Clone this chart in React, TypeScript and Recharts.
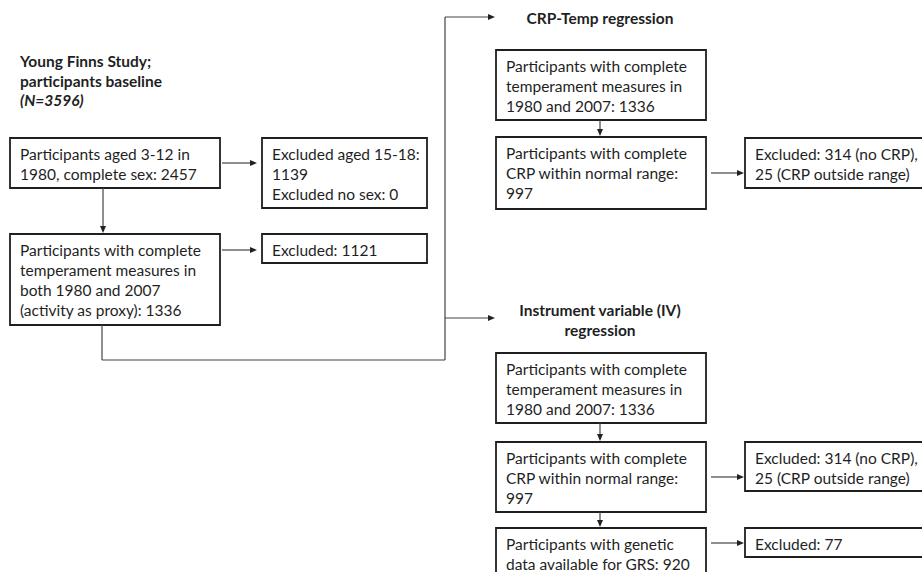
import React from 'react';
import { ComposedChart, XAxis, YAxis, ReferenceArea, ReferenceLine, Scatter } from 'recharts';

const FONT = 'Lato, "Open Sans", sans-serif';
const INK = '#1f1f1f';

interface Box { x1: number; x2: number; y1: number; y2: number; lines: string[] }

// cohort selection (left column)
const baselineBoxes: Box[] = [
  { x1: 10, x2: 220, y1: 138, y2: 188, lines: ['Participants aged 3-12 in', '1980, complete sex: 2457'] },
  { x1: 262, x2: 427, y1: 138, y2: 208, lines: ['Excluded aged 15-18:', '1139', 'Excluded no sex: 0'] },
  { x1: 10, x2: 220, y1: 234, y2: 325, lines: ['Participants with complete', 'temperament measures in', 'both 1980 and 2007', '(activity as proxy): 1336'] },
  { x1: 262, x2: 427, y1: 234, y2: 263, lines: ['Excluded: 1121'] },
];

// CRP-Temp regression branch
const crpBoxes: Box[] = [
  { x1: 496, x2: 706, y1: 50, y2: 120, lines: ['Participants with complete', 'temperament measures in', '1980 and 2007: 1336'] },
  { x1: 496, x2: 706, y1: 137, y2: 209, lines: ['Participants with complete', 'CRP within normal range:', '997'] },
  { x1: 745, x2: 935, y1: 138, y2: 188, lines: ['Excluded: 314 (no CRP),', '25 (CRP outside range)'] },
];

// IV regression branch
const ivBoxes: Box[] = [
  { x1: 496, x2: 706, y1: 353, y2: 423, lines: ['Participants with complete', 'temperament measures in', '1980 and 2007: 1336'] },
  { x1: 496, x2: 706, y1: 442, y2: 512, lines: ['Participants with complete', 'CRP within normal range:', '997'] },
  { x1: 496, x2: 706, y1: 528, y2: 600, lines: ['Participants with genetic', 'data available for GRS: 920'] },
  { x1: 745, x2: 935, y1: 442, y2: 491, lines: ['Excluded: 314 (no CRP),', '25 (CRP outside range)'] },
  { x1: 745, x2: 935, y1: 528, y2: 557, lines: ['Excluded: 77'] },
];

const headings = [
  { x: 20, y: 61, text: 'Young Finns Study;', anchor: 'start', italic: false },
  { x: 20, y: 81, text: 'participants baseline', anchor: 'start', italic: false },
  { x: 20, y: 100, text: '(N=3596)', anchor: 'start', italic: true },
  { x: 600, y: 18, text: 'CRP-Temp regression', anchor: 'middle', italic: false },
  { x: 600, y: 310, text: 'Instrument variable (IV)', anchor: 'middle', italic: false },
  { x: 600, y: 330, text: 'regression', anchor: 'middle', italic: false },
];

const connectors = [
  { x1: 222, y1: 163, x2: 257, y2: 163, head: true },
  { x1: 103, y1: 188, x2: 103, y2: 233, head: true },
  { x1: 222, y1: 250, x2: 257, y2: 250, head: true },
  { x1: 102, y1: 325, x2: 102, y2: 360, head: false },
  { x1: 102, y1: 360, x2: 445, y2: 360, head: false },
  { x1: 445, y1: 360, x2: 445, y2: 17, head: false },
  { x1: 445, y1: 17, x2: 495, y2: 17, head: true },
  { x1: 445, y1: 318, x2: 495, y2: 318, head: true },
  { x1: 600, y1: 120, x2: 600, y2: 136, head: true },
  { x1: 711, y1: 173, x2: 744, y2: 173, head: true },
  { x1: 600, y1: 423, x2: 600, y2: 441, head: true },
  { x1: 711, y1: 477, x2: 744, y2: 477, head: true },
  { x1: 600, y1: 512, x2: 600, y2: 527, head: true },
  { x1: 711, y1: 543, x2: 744, y2: 543, head: true },
];

const BoxText = (props: any) => {
  const { viewBox, lines } = props;
  if (!viewBox) return null;
  return (
    <g>
      {lines.map((l: string, i: number) => (
        <text key={i} x={viewBox.x + 10} y={viewBox.y + 16 + i * 20} dominantBaseline="central"
          fontFamily={FONT} fontSize={15.5} fill={INK}>{l}</text>
      ))}
    </g>
  );
};

const Arrow = (props: any) => {
  const { x1, y1, x2, y2, head } = props;
  const a = Math.atan2(y2 - y1, x2 - x1);
  const len = 7, half = 3;
  const bx = x2 - len * Math.cos(a), by = y2 - len * Math.sin(a);
  const px = -Math.sin(a) * half, py = Math.cos(a) * half;
  return (
    <g>
      <line x1={x1} y1={y1} x2={head ? bx : x2} y2={head ? by : y2} stroke="#444" strokeWidth={1.2} />
      {head && <polygon points={`${x2},${y2} ${bx + px},${by + py} ${bx - px},${by - py}`} fill="#222" />}
    </g>
  );
};

const Heading = (props: any) => {
  const { cx, cy, payload } = props;
  return (
    <text x={cx} y={cy} textAnchor={payload.anchor} dominantBaseline="central" fontFamily={FONT}
      fontSize={15.5} fontWeight={700} fontStyle={payload.italic ? 'italic' : 'normal'} fill={INK}>
      {payload.text}
    </text>
  );
};

const allBoxes = [...baselineBoxes, ...crpBoxes, ...ivBoxes];

export default function App() {
  return (
    <div style={{ position: 'absolute', left: 0, top: 0, background: '#fff' }}>
      <ComposedChart width={922} height={572} margin={{ top: 0, right: 0, bottom: 0, left: 0 }}>
        <XAxis type="number" dataKey="x" domain={[0, 922]} allowDataOverflow hide />
        <YAxis type="number" dataKey="y" domain={[0, 572]} reversed allowDataOverflow hide />
        {connectors.map((c, i) => (
          <ReferenceLine key={`c${i}`} segment={[{ x: c.x1, y: c.y1 }, { x: c.x2, y: c.y2 }]}
            ifOverflow="visible" shape={(p: any) => <Arrow {...p} head={c.head} />} />
        ))}
        {allBoxes.map((b, i) => (
          <ReferenceArea key={`b${i}`} x1={b.x1} x2={b.x2} y1={b.y1} y2={b.y2} ifOverflow="hidden"
            fill="#fff" fillOpacity={1} stroke="#1f1f1f" strokeWidth={1.8}
            label={<BoxText lines={b.lines} />} />
        ))}
        <Scatter data={headings} isAnimationActive={false} shape={(p: any) => <Heading {...p} />} />
      </ComposedChart>
    </div>
  );
}
